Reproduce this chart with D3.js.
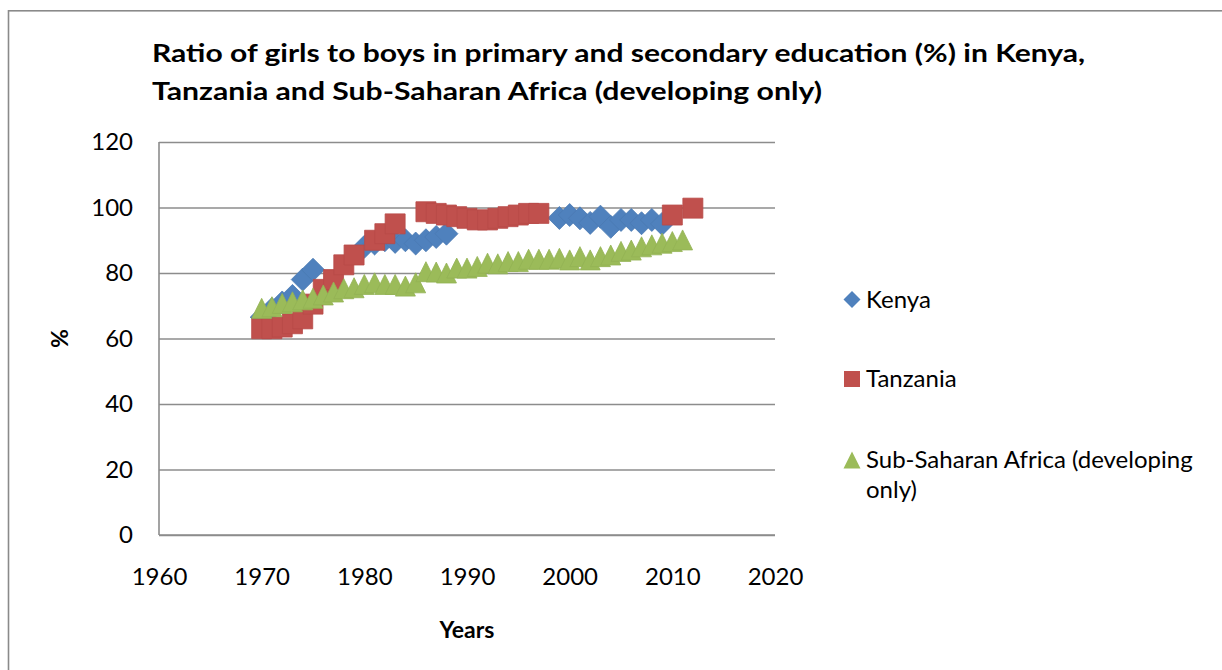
<!DOCTYPE html>
<html>
<head>
<meta charset="utf-8">
<script src="https://cdn.jsdelivr.net/npm/d3@7"></script>
<style>
  html, body { margin: 0; padding: 0; background: #fff; }
  svg { display: block; font-family: Lato, "Open Sans", sans-serif; }
</style>
</head>
<body>
<svg id="chart" width="1222" height="670"></svg>
<script>
// ---- Data ----
const kenyaYears = [1970,1971,1972,1973,1974,1975,
  1980,1981,1982,1983,1984,1985,1986,1987,1988,
  1999,2000,2001,2002,2003,2004,2005,2006,2007,2008,2009];
const kenyaValues = [66.5,69,71,73,78,81,
  88,89,90,89.5,90,89,90,91,92,
  96.8,97.7,96.7,95.3,97.2,94.1,96.2,96.2,95.2,96.2,95];

const tanzaniaYears = [1970,1971,1972,1973,1974,1975,1976,1977,1978,1979,
  1981,1982,1983,
  1986,1987,1988,1989,1990,1991,1992,1993,1994,1995,1996,1997,
  2010,2012];
const tanzaniaValues = [63,63,63.5,64.5,66,70.5,75,78,82.5,85.5,
  90,92,95,
  98.7,98.2,97.7,97.2,96.7,96.2,96.2,96.7,97.2,97.7,98.2,98.2,
  97.7,99.8];

const ssaYears = [1970,1971,1972,1973,1974,1975,1976,1977,1978,1979,
  1980,1981,1982,1983,1984,1985,1986,1987,1988,1989,
  1990,1991,1992,1993,1994,1995,1996,1997,1998,1999,
  2000,2001,2002,2003,2004,2005,2006,2007,2008,2009,2010,2011];
const ssaValues = [69.2,69.7,70.7,71.2,71.8,72.3,73.3,74.2,75.2,75.5,
  76.5,77,76.5,76.5,76,77,80.4,80.3,80,81.5,
  81.5,82,83,82.8,83.5,83.5,84.2,84.2,84.2,84.5,
  84,85,84,85,85.5,86.6,87,88,88.6,89.1,89.6,90.1];

const seriesNames = ["Kenya", "Tanzania", "Sub-Saharan Africa (developing only)"];
const xTicks = [1960,1970,1980,1990,2000,2010,2020];
const yTicks = [0,20,40,60,80,100,120];
const titleLines = [
  "Ratio of girls to boys in primary and secondary education (%) in Kenya,",
  "Tanzania and Sub-Saharan Africa (developing only)"
];

// ---- Layout ----
const svg = d3.select("#chart");
const plot = { left: 159, right: 775, top: 142, bottom: 535 };
const x = d3.scaleLinear().domain([1960, 2020]).range([plot.left, plot.right]);
const y = d3.scaleLinear().domain([0, 120]).range([plot.bottom, plot.top]);

const colors = ["#4F81BD", "#C0504D", "#9BBB59"];
const strokes = ["#4A7AB3", "#B84A47", "#93B254"];
const labelFont = 24;

// chart border
svg.append("rect")
  .attr("x", 8.5).attr("y", 10.8)
  .attr("width", 1300).attr("height", 700)
  .attr("fill", "none").attr("stroke", "#8a8a8a").attr("stroke-width", 1.6);

// title
svg.append("g").selectAll("text").data(titleLines).join("text")
  .attr("x", 152)
  .attr("y", (d, i) => 62 + i * 38)
  .attr("font-size", 24)
  .attr("font-weight", "bold")
  .attr("fill", "#000")
  .attr("textLength", (d, i) => i === 0 ? 933 : 670)
  .attr("lengthAdjust", "spacingAndGlyphs")
  .text(d => d);

// gridlines + y axis labels
const yAxis = d3.axisLeft(y).tickValues(yTicks)
  .tickSize(-(plot.right - plot.left)).tickPadding(26).tickFormat(d3.format("d"));
const gy = svg.append("g").attr("transform", `translate(${plot.left},0)`).call(yAxis);
gy.select(".domain").remove();
gy.selectAll(".tick line").attr("stroke", "#8c8c8c").attr("stroke-width", 1.6);
gy.selectAll(".tick text").attr("font-size", labelFont).attr("fill", "#000")
  .attr("font-family", "Lato, 'Open Sans', sans-serif");

// x axis labels
const xAxis = d3.axisBottom(x).tickValues(xTicks).tickSize(0).tickPadding(33).tickFormat(d3.format("d"));
const gx = svg.append("g").attr("transform", `translate(0,${plot.bottom})`).call(xAxis);
gx.select(".domain").remove();
gx.selectAll(".tick text").attr("font-size", labelFont).attr("fill", "#000")
  .attr("font-family", "Lato, 'Open Sans', sans-serif");

// axis lines
svg.append("line").attr("x1", plot.left).attr("x2", plot.left)
  .attr("y1", plot.top).attr("y2", plot.bottom)
  .attr("stroke", "#8c8c8c").attr("stroke-width", 1.6);
svg.append("line").attr("x1", plot.left).attr("x2", plot.right)
  .attr("y1", plot.bottom).attr("y2", plot.bottom)
  .attr("stroke", "#8c8c8c").attr("stroke-width", 1.6);

// axis titles
svg.append("text")
  .attr("transform", `translate(68,${(plot.top + plot.bottom) / 2}) rotate(-90)`)
  .attr("text-anchor", "middle")
  .attr("font-size", 23).attr("font-weight", "bold")
  .text("%");
svg.append("text")
  .attr("x", 467).attr("y", 638)
  .attr("text-anchor", "middle")
  .attr("font-size", 23).attr("font-weight", "bold")
  .text("Years");

// marker shapes
const diamondType = { draw(ctx, size) { const r = Math.sqrt(size) / 2;
  ctx.moveTo(0, -r); ctx.lineTo(r, 0); ctx.lineTo(0, r); ctx.lineTo(-r, 0); ctx.closePath(); } };
const squareType = { draw(ctx, size) { const r = Math.sqrt(size) / 2;
  ctx.moveTo(-r, -r); ctx.lineTo(r, -r); ctx.lineTo(r, r); ctx.lineTo(-r, r); ctx.closePath(); } };
const triangleType = { draw(ctx, size) { const r = Math.sqrt(size) / 2;
  ctx.moveTo(0, -r); ctx.lineTo(r, r); ctx.lineTo(-r, r); ctx.closePath(); } };
const types = [diamondType, squareType, triangleType];
const plotSizes = [23 * 23, 20 * 20, 20 * 20];
const legendSizes = [17 * 17, 16 * 16, 17 * 17];

const series = [
  { years: kenyaYears, values: kenyaValues },
  { years: tanzaniaYears, values: tanzaniaValues },
  { years: ssaYears, values: ssaValues }
];

series.forEach((s, i) => {
  const pts = s.years.map((yr, j) => ({ yr, v: s.values[j] }));
  svg.append("g").selectAll("path").data(pts).join("path")
    .attr("transform", d => `translate(${x(d.yr)},${y(d.v)})`)
    .attr("d", d3.symbol().type(types[i]).size(plotSizes[i]))
    .attr("fill", colors[i])
    .attr("stroke", strokes[i]).attr("stroke-width", 0.8);
});

// legend
const legendY = [299.5, 379, 460];
const lg = svg.append("g");
seriesNames.forEach((name, i) => {
  lg.append("path")
    .attr("transform", `translate(852,${legendY[i]})`)
    .attr("d", d3.symbol().type(types[i]).size(legendSizes[i]))
    .attr("fill", colors[i]);
});
lg.append("text").attr("x", 866).attr("y", 308).attr("font-size", labelFont).text("Kenya");
lg.append("text").attr("x", 866).attr("y", 387).attr("font-size", labelFont).text("Tanzania");
const ssaText = lg.append("text").attr("x", 866).attr("y", 468).attr("font-size", labelFont);
ssaText.append("tspan").attr("x", 866).text("Sub-Saharan Africa (developing");
ssaText.append("tspan").attr("x", 866).attr("dy", 30).text("only)");
</script>
</body>
</html>
